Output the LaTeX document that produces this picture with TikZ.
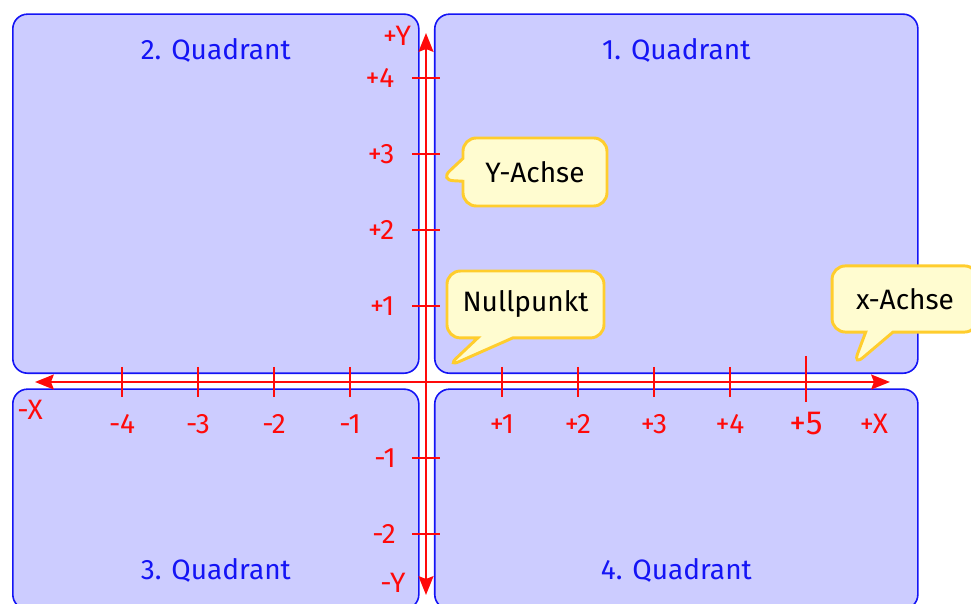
\documentclass[tikz,border=0pt]{standalone}
\usepackage{fontspec}
\setmainfont{Fira Sans}
\usetikzlibrary{arrows.meta, positioning, shapes.callouts, calc}
\definecolor{quadfill}{RGB}{204,204,255}
\definecolor{quadblue}{RGB}{20,20,245}
\definecolor{axisred}{RGB}{255,10,10}
\definecolor{notefill}{RGB}{255,252,208}
\definecolor{noteline}{RGB}{255,205,45}
\begin{document}
\begin{tikzpicture}[
    quad/.style={draw=quadblue, fill=quadfill, line width=0.6pt, rounded corners=5.5pt,
                inner sep=0pt, anchor=south west},
    qlabel/.style={text=quadblue, font=\fontsize{10.5}{12}\selectfont},
    axis/.style={draw=axisred, line width=1.1pt, arrows={Stealth[length=7pt,width=5.5pt,inset=1pt]-Stealth[length=7pt,width=5.5pt,inset=1pt]}},
    tick/.style={draw=axisred, line width=1.1pt},
    num/.style={text=axisred, inner sep=0pt, font=\fontsize{10.5}{12}\selectfont},
    note/.style={rectangle callout, draw=noteline, fill=notefill, line width=1.1pt,
                rounded corners=5pt, font=\fontsize{10.5}{12}\selectfont}
]
\useasboundingbox (-5.605,-2.908) rectangle (7.171,5.026);
\node[quad, minimum width=6.356cm, minimum height=4.724cm] (q1) at (0.105,0.105) {};
\node[quad, minimum width=5.342cm, minimum height=4.724cm] (q2) at (-5.447,0.105) {};
\node[quad, minimum width=5.342cm, minimum height=2.895cm] (q3) at (-5.447,-3.0) {};
\node[quad, minimum width=6.356cm, minimum height=2.895cm] (q4) at (0.105,-3.0) {};
\node[qlabel] (l1) at ([yshift=-0.49cm]q1.north) {1. Quadrant};
\node[qlabel] (l2) at ([yshift=-0.49cm]q2.north) {2. Quadrant};
\node[qlabel] (l3) at ([yshift=0.526cm]q3.south) {3. Quadrant};
\node[qlabel] (l4) at ([yshift=0.526cm]q4.south) {4. Quadrant};
\coordinate (xl) at (-5.145,0);
\coordinate (xr) at (6.105,0);
\coordinate (yb) at (0,-2.803);
\coordinate (yt) at (0,4.592);
\draw[axis] (xl) -- (xr);
\draw[axis] (yb) -- (yt);
\foreach \i in {-4,-3,-2,-1,1,2,3,4} {
    \draw[tick] (\i,0.2) -- (\i,-0.2);
}
\foreach \i in {-4,-3,-2,-1,1,2,3,4} {
    \draw[tick] (-0.18,\i) -- (0.18,\i);
}
\draw[tick] (5,0.342) -- (5,-0.263);
\foreach \i in {-4,-3,-2,-1} {
    \node[num] (xn\i) at (\i,-0.553) {\i};
}
\foreach \i in {1,2,3,4} {
    \node[num] (xp\i) at (\i,-0.553) {+\i};
}
\node[num, font=\fontsize{12.5}{14}\selectfont] (xp5) at (5,-0.553) {+5};
\foreach \i in {1,2,3,4} {
    \node[num, anchor=east] (yp\i) at (-0.41,\i) {+\i};
}
\foreach \i in {-2,-1} {
    \node[num, anchor=east] (yn\i) at (-0.39,\i) {\i};
}
\node[num] (xminus) at (-5.21,-0.368) {-X};
\node[num] (xplus) at (5.895,-0.553) {+X};
\node[num] (yplus) at (-0.38,4.553) {+Y};
\node[num] (yminus) at (-0.434,-2.645) {-Y};
\coordinate (ytip) at (0.184,2.658);
\coordinate (otip) at (0.276,0.197);
\coordinate (xtip) at (5.618,0.21);
\node[note, minimum width=1.895cm, minimum height=0.895cm, callout pointer width=0.3cm,
      callout absolute pointer={(ytip)}] (ynote) at (1.434,2.763) {Y-Achse};
\node[note, minimum width=2.066cm, minimum height=0.88cm, callout pointer width=0.46cm,
      callout absolute pointer={(otip)}] (onote) at (1.309,1.02) {Nullpunkt};
\node[note, minimum width=1.92cm, minimum height=0.87cm, callout pointer width=0.36cm,
      callout absolute pointer={(xtip)}] (xnote) at (6.303,1.092) {x-Achse};
\end{tikzpicture}
\end{document}
